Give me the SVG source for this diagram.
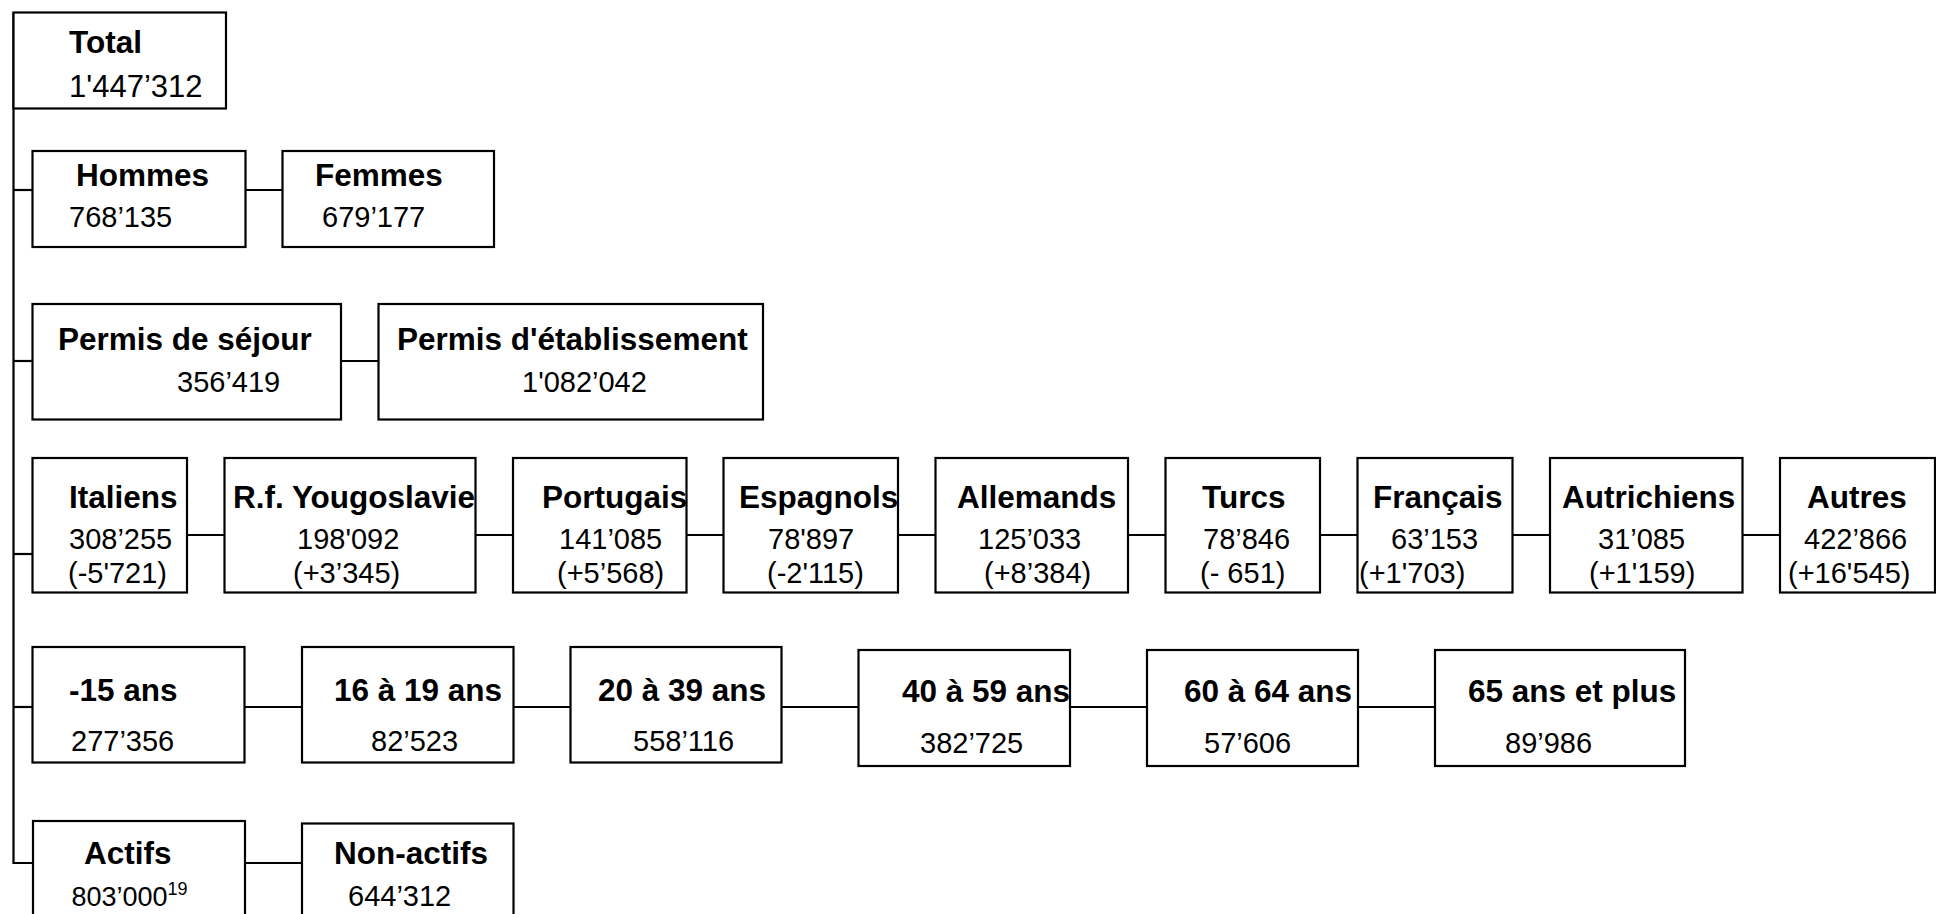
<svg xmlns="http://www.w3.org/2000/svg" width="1936" height="914" viewBox="0 0 1936 914">
<style>
rect.b{fill:#fff;stroke:#000;stroke-width:2.2}
.c line,.c polyline{stroke:#000;stroke-width:2.2;fill:none}
text{font-family:"Liberation Sans",Arial,sans-serif;fill:#000}
.l{font-weight:bold;font-size:31.5px}
.v{font-size:29px}
</style>
<rect width="1936" height="914" fill="#fff"/>
<g class="c" id="connectors">
<polyline points="13.5,12.5 13.5,863 33,863"/>
<line x1="13.5" y1="190" x2="32.5" y2="190"/>
<line x1="13.5" y1="361" x2="32.5" y2="361"/>
<line x1="13.5" y1="554" x2="32.5" y2="554"/>
<line x1="13.5" y1="707" x2="32.5" y2="707"/>
<line x1="245.5" y1="190" x2="282.5" y2="190"/>
<line x1="341" y1="361" x2="378.5" y2="361"/>
<line x1="187" y1="535" x2="224.5" y2="535"/>
<line x1="475.5" y1="535" x2="513" y2="535"/>
<line x1="686.5" y1="535" x2="723.5" y2="535"/>
<line x1="898" y1="535" x2="935.5" y2="535"/>
<line x1="1128" y1="535" x2="1165.5" y2="535"/>
<line x1="1320" y1="535" x2="1357.5" y2="535"/>
<line x1="1512.5" y1="535" x2="1550" y2="535"/>
<line x1="1742.5" y1="535" x2="1780" y2="535"/>
<line x1="244.5" y1="707" x2="302" y2="707"/>
<line x1="513.5" y1="707" x2="570.5" y2="707"/>
<line x1="781.5" y1="707" x2="858.5" y2="707"/>
<line x1="1070" y1="707" x2="1147" y2="707"/>
<line x1="1358" y1="707" x2="1435" y2="707"/>
<line x1="245" y1="863" x2="302" y2="863"/>
</g>
<g id="total"><rect class="b" x="13.5" y="12.5" width="212.5" height="96"/><text class="l" x="69" y="53">Total</text><text class="v" x="69" y="97" style="font-size:31px">1'447’312</text></g>
<g id="hommes"><rect class="b" x="32.5" y="151" width="213" height="96"/><text class="l" x="76" y="186">Hommes</text><text class="v" x="69" y="227">768’135</text></g>
<g id="femmes"><rect class="b" x="282.5" y="151" width="211.5" height="96"/><text class="l" x="315" y="186">Femmes</text><text class="v" x="322" y="227">679’177</text></g>
<g id="sejour"><rect class="b" x="32.5" y="304" width="308.5" height="115.5"/><text class="l" x="58" y="350">Permis de séjour</text><text class="v" x="177" y="392">356’419</text></g>
<g id="etablissement"><rect class="b" x="378.5" y="304" width="384.5" height="115.5"/><text class="l" x="397" y="350">Permis d'établissement</text><text class="v" x="522" y="392">1'082’042</text></g>
<g id="italiens"><rect class="b" x="32.5" y="458" width="154.5" height="134.5"/><text class="l" x="69" y="508">Italiens</text><text class="v" x="69" y="549">308’255</text><text class="v" x="68" y="583">(-5'721)</text></g>
<g id="yougoslavie"><rect class="b" x="224.5" y="458" width="251" height="134.5"/><text class="l" x="233" y="508">R.f. Yougoslavie</text><text class="v" x="297" y="549">198'092</text><text class="v" x="293" y="583">(+3’345)</text></g>
<g id="portugais"><rect class="b" x="513" y="458" width="173.5" height="134.5"/><text class="l" x="542" y="508">Portugais</text><text class="v" x="559" y="549">141’085</text><text class="v" x="557" y="583">(+5’568)</text></g>
<g id="espagnols"><rect class="b" x="723.5" y="458" width="174.5" height="134.5"/><text class="l" x="739" y="508">Espagnols</text><text class="v" x="768" y="549">78'897</text><text class="v" x="767" y="583">(-2'115)</text></g>
<g id="allemands"><rect class="b" x="935.5" y="458" width="192.5" height="134.5"/><text class="l" x="957" y="508">Allemands</text><text class="v" x="978" y="549">125’033</text><text class="v" x="984" y="583">(+8’384)</text></g>
<g id="turcs"><rect class="b" x="1165.5" y="458" width="154.5" height="134.5"/><text class="l" x="1202" y="508">Turcs</text><text class="v" x="1203" y="549">78’846</text><text class="v" x="1200" y="583">(- 651)</text></g>
<g id="francais"><rect class="b" x="1357.5" y="458" width="155" height="134.5"/><text class="l" x="1373" y="508">Français</text><text class="v" x="1391" y="549">63’153</text><text class="v" x="1359" y="583">(+1'703)</text></g>
<g id="autrichiens"><rect class="b" x="1550" y="458" width="192.5" height="134.5"/><text class="l" x="1562" y="508">Autrichiens</text><text class="v" x="1598" y="549">31’085</text><text class="v" x="1589" y="583">(+1'159)</text></g>
<g id="autres"><rect class="b" x="1780" y="458" width="155" height="134.5"/><text class="l" x="1807" y="508">Autres</text><text class="v" x="1804" y="549">422’866</text><text class="v" x="1788" y="583">(+16'545)</text></g>
<g id="age15"><rect class="b" x="32.5" y="647" width="212" height="115.5"/><text class="l" x="69" y="701">-15 ans</text><text class="v" x="71" y="751">277’356</text></g>
<g id="age16"><rect class="b" x="302" y="647" width="211.5" height="115.5"/><text class="l" x="334" y="701">16 à 19 ans</text><text class="v" x="371" y="751">82’523</text></g>
<g id="age20"><rect class="b" x="570.5" y="647" width="211" height="115.5"/><text class="l" x="598" y="701">20 à 39 ans</text><text class="v" x="633" y="751">558’116</text></g>
<g id="age40"><rect class="b" x="858.5" y="650" width="211.5" height="116"/><text class="l" x="902" y="702">40 à 59 ans</text><text class="v" x="920" y="753">382’725</text></g>
<g id="age60"><rect class="b" x="1147" y="650" width="211" height="116"/><text class="l" x="1184" y="702">60 à 64 ans</text><text class="v" x="1204" y="753">57’606</text></g>
<g id="age65"><rect class="b" x="1435" y="650" width="250" height="116"/><text class="l" x="1468" y="702">65 ans et plus</text><text class="v" x="1505" y="753">89’986</text></g>
<g id="actifs"><rect class="b" x="33" y="821" width="212" height="130"/><text class="l" x="84" y="864">Actifs</text><text class="v" x="71.5" y="906" style="font-size:27px">803’000</text><text x="167.5" y="895" style="font-size:18px">19</text></g>
<g id="nonactifs"><rect class="b" x="302" y="823.5" width="211.5" height="130"/><text class="l" x="334" y="864">Non-actifs</text><text class="v" x="348" y="906">644’312</text></g>
</svg>
